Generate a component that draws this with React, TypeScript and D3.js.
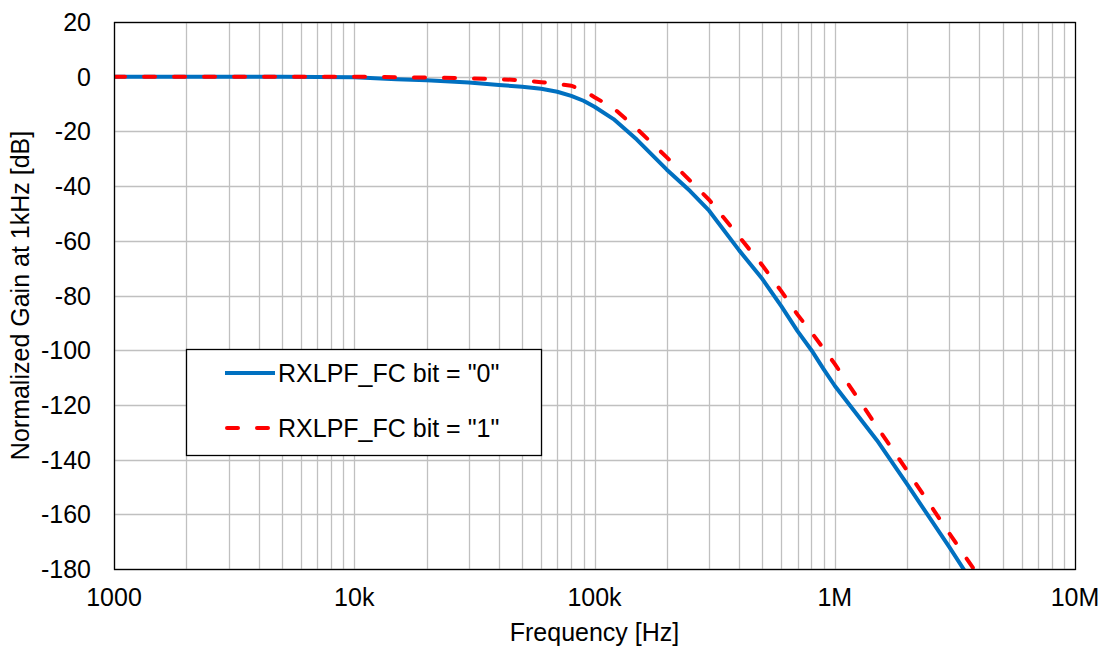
import React, { useEffect, useRef } from "react";
import * as d3 from "d3";

// frequency points [Hz]
const freqBit0 = [1000, 2000, 5000, 10000, 15000, 20000, 30000, 40000, 50000, 60000, 70000, 80000, 90000, 100000, 120000, 150000, 200000, 250000, 300000, 400000, 500000, 600000, 700000, 800000, 900000, 1000000, 1500000, 2000000, 3000000, 4000000];
const gainBit0 = [0, 0, 0, -0.2, -0.9, -1.3, -2.1, -3.0, -3.7, -4.4, -5.5, -7.0, -8.8, -11, -15.5, -23, -34, -41.8, -49, -63.5, -74, -84, -93, -100, -107, -113, -133, -149, -172, -189];

const freqBit1 = [1000, 5000, 10000, 20000, 30000, 40000, 50000, 60000, 70000, 80000, 90000, 100000, 120000, 150000, 200000, 300000, 400000, 500000, 600000, 700000, 800000, 900000, 1000000, 1500000, 2000000, 3000000, 4000000];
const gainBit1 = [0, 0, 0, -0.3, -0.6, -0.9, -1.3, -2.0, -2.6, -3.3, -5, -7.5, -11.5, -19, -29.5, -45, -58.5, -69, -78.5, -87, -93.5, -99.5, -105, -128, -144, -167, -183];

const xTicks = [1000, 10000, 100000, 1000000, 10000000];
const xTickLabels = ["1000", "10k", "100k", "1M", "10M"];
const yTicks = [20, 0, -20, -40, -60, -80, -100, -120, -140, -160, -180];

const seriesNames = ['RXLPF_FC bit = "0"', 'RXLPF_FC bit = "1"'];

const App = () => {
  const svgRef = useRef<SVGSVGElement>(null);

  useEffect(() => {
    const svg = d3.select(svgRef.current);
    svg.selectAll("*").remove();

    const margin = { top: 22, right: 29, bottom: 79, left: 114 };
    const width = 1104 - margin.left - margin.right;
    const height = 648 - margin.top - margin.bottom;
    const font = "'Liberation Sans', Arial, sans-serif";
    const fs = 25;

    const x = d3.scaleLog().domain([1000, 10000000]).range([0, width]);
    const y = d3.scaleLinear().domain([-180, 20]).range([height, 0]);

    const g = svg.append("g").attr("transform", `translate(${margin.left},${margin.top})`);

    // minor + major vertical grid
    const vGrid: number[] = [];
    for (let dec = 1000; dec < 10000000; dec *= 10) {
      for (let k = 1; k <= 9; k++) vGrid.push(dec * k);
    }
    g.selectAll(".vgrid")
      .data(vGrid)
      .enter()
      .append("line")
      .attr("x1", (d) => Math.round(x(d)) + 0.5)
      .attr("x2", (d) => Math.round(x(d)) + 0.5)
      .attr("y1", 0)
      .attr("y2", height)
      .attr("stroke", "#c0c0c0")
      .attr("stroke-width", 1.3);

    g.selectAll(".hgrid")
      .data(yTicks)
      .enter()
      .append("line")
      .attr("x1", 0)
      .attr("x2", width)
      .attr("y1", (d) => Math.round(y(d)) + 0.5)
      .attr("y2", (d) => Math.round(y(d)) + 0.5)
      .attr("stroke", "#c0c0c0")
      .attr("stroke-width", 1.3);

    svg
      .append("clipPath")
      .attr("id", "plot-clip")
      .append("rect")
      .attr("width", width)
      .attr("height", height);

    const line = d3
      .line<[number, number]>()
      .x((d) => x(d[0]))
      .y((d) => y(d[1]));

    const plot = g.append("g").attr("clip-path", "url(#plot-clip)");

    plot
      .append("path")
      .datum(freqBit0.map((f, i) => [f, gainBit0[i]] as [number, number]))
      .attr("d", line)
      .attr("fill", "none")
      .attr("stroke", "#0070c0")
      .attr("stroke-width", 4)
      .attr("stroke-linejoin", "round");

    plot
      .append("path")
      .datum(freqBit1.map((f, i) => [f, gainBit1[i]] as [number, number]))
      .attr("d", line)
      .attr("fill", "none")
      .attr("stroke", "#ff0000")
      .attr("stroke-width", 4)
      .attr("stroke-linecap", "round")
      .attr("stroke-dasharray", "11,19");

    // plot border
    g.append("rect")
      .attr("x", 0.5)
      .attr("y", 0.5)
      .attr("width", width)
      .attr("height", height)
      .attr("fill", "none")
      .attr("stroke", "#000")
      .attr("stroke-width", 1.3);

    // y tick labels
    g.selectAll(".ylab")
      .data(yTicks)
      .enter()
      .append("text")
      .attr("x", -23)
      .attr("y", (d) => y(d))
      .attr("dy", "0.36em")
      .attr("text-anchor", "end")
      .attr("font-family", font)
      .attr("font-size", fs)
      .attr("fill", "#000")
      .text((d) => d);

    // x tick labels
    g.selectAll(".xlab")
      .data(xTicks)
      .enter()
      .append("text")
      .attr("x", (d) => x(d))
      .attr("y", height + 37)
      .attr("text-anchor", "middle")
      .attr("font-family", font)
      .attr("font-size", fs)
      .attr("fill", "#000")
      .text((d, i) => xTickLabels[i]);

    // axis titles
    g.append("text")
      .attr("x", width / 2)
      .attr("y", height + 72)
      .attr("text-anchor", "middle")
      .attr("font-family", font)
      .attr("font-size", fs)
      .attr("fill", "#000")
      .text("Frequency [Hz]");

    svg
      .append("text")
      .attr("transform", `translate(29,${margin.top + height / 2}) rotate(-90)`)
      .attr("text-anchor", "middle")
      .attr("font-family", font)
      .attr("font-size", fs)
      .attr("fill", "#000")
      .text("Normalized Gain at 1kHz [dB]");

    // legend
    const legend = svg.append("g").attr("transform", "translate(186,349)");
    legend
      .append("rect")
      .attr("x", 0.5)
      .attr("y", 0.5)
      .attr("width", 355)
      .attr("height", 106)
      .attr("fill", "#fff")
      .attr("stroke", "#000")
      .attr("stroke-width", 1.3);

    const legendItems = [
      { name: seriesNames[0], color: "#0070c0", dash: null, cy: 24 },
      { name: seriesNames[1], color: "#ff0000", dash: "11,19", cy: 79 },
    ];
    legendItems.forEach((it) => {
      legend
        .append("line")
        .attr("x1", it.dash ? 41 : 39)
        .attr("x2", it.dash ? 87 : 89)
        .attr("y1", it.cy)
        .attr("y2", it.cy)
        .attr("stroke", it.color)
        .attr("stroke-width", 4)
        .attr("stroke-linecap", it.dash ? "round" : "butt")
        .attr("stroke-dasharray", it.dash ? "11,19" : null);
      legend
        .append("text")
        .attr("x", 92)
        .attr("y", it.cy)
        .attr("dy", "0.36em")
        .attr("font-family", font)
        .attr("font-size", fs)
        .attr("fill", "#000")
        .text(it.name);
    });
  }, []);

  return (
    <svg
      ref={svgRef}
      width={1104}
      height={648}
      style={{ position: "absolute", left: 0, top: 0, background: "#fff" }}
    ></svg>
  );
};

export default App;
